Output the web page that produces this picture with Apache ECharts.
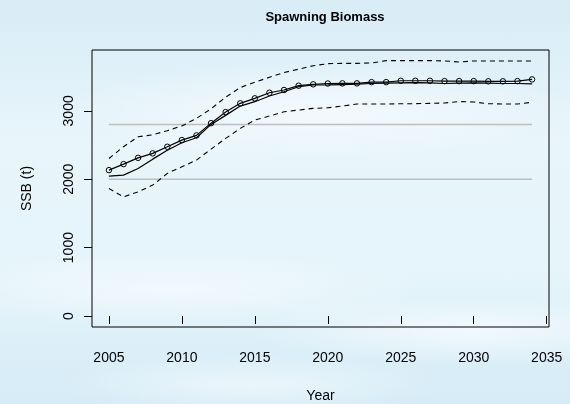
<!DOCTYPE html>
<html>
<head>
<meta charset="utf-8">
<script src="https://cdn.jsdelivr.net/npm/echarts@6/dist/echarts.min.js"></script>
<style>
  html, body { margin: 0; padding: 0; }
  body {
    width: 570px; height: 404px; overflow: hidden;
    background:
      radial-gradient(ellipse 260px 50px at 320px 110px, rgba(255,255,255,0.55), rgba(255,255,255,0)),
      radial-gradient(ellipse 220px 35px at 470px 330px, rgba(255,255,255,0.6), rgba(255,255,255,0)),
      radial-gradient(ellipse 260px 40px at 170px 290px, rgba(255,255,255,0.5), rgba(255,255,255,0)),
      radial-gradient(ellipse 200px 30px at 250px 385px, rgba(255,255,255,0.5), rgba(255,255,255,0)),
      linear-gradient(180deg, #d8ecf6 0%, #e8f5fb 35%, #e6f5fb 65%, #d5ebf6 100%);
  }
  #main { width: 570px; height: 404px; }
</style>
</head>
<body>
<div id="main"></div>
<script>
// projection years
const years = [2005, 2006, 2007, 2008, 2009, 2010, 2011, 2012, 2013, 2014,
  2015, 2016, 2017, 2018, 2019, 2020, 2021, 2022, 2023, 2024,
  2025, 2026, 2027, 2028, 2029, 2030, 2031, 2032, 2033, 2034];
// line with circles
const ssbPoints = [2133, 2221, 2313, 2378, 2475, 2572, 2641, 2820, 2982, 3110,
  3183, 3265, 3305, 3368, 3388, 3400, 3402, 3402, 3420, 3420,
  3440, 3440, 3440, 3435, 3435, 3435, 3432, 3432, 3435, 3460];
// plain solid line
const ssbMedian = [2045, 2060, 2158, 2294, 2425, 2533, 2606, 2802, 2934, 3070,
  3134, 3217, 3280, 3353, 3378, 3380, 3385, 3390, 3400, 3405,
  3410, 3412, 3410, 3400, 3405, 3410, 3405, 3400, 3400, 3395];
// dashed bounds
const ssbUpper = [2304, 2475, 2621, 2650, 2710, 2780, 2890, 3030, 3200, 3340,
  3420, 3490, 3560, 3610, 3660, 3690, 3695, 3695, 3700, 3735,
  3735, 3735, 3735, 3730, 3715, 3730, 3730, 3730, 3730, 3730];
const ssbLower = [1865, 1742, 1816, 1914, 2085, 2182, 2280, 2440, 2597, 2744,
  2865, 2924, 2987, 3012, 3036, 3045, 3070, 3100, 3100, 3100,
  3105, 3105, 3110, 3115, 3135, 3130, 3105, 3100, 3100, 3125];
// grey reference levels
const refLevels = [2000, 2800];
const xTicks = [2005, 2010, 2015, 2020, 2025, 2030, 2035];
const yTicks = [0, 1000, 2000, 3000];

const pairs = vals => years.map((y, i) => [y, vals[i]]);
const font = 'Liberation Sans, Arial, sans-serif';

let myChart = echarts.init(document.getElementById('main'));

let series = refLevels.map(v => ({
  type: 'line',
  data: [[years[0], v], [years[years.length - 1], v]],
  symbol: 'none',
  lineStyle: { color: '#bebebe', width: 1.5 },
  silent: true
}));

series.push(
  {
    type: 'line',
    data: pairs(ssbUpper),
    symbol: 'none',
    lineStyle: { color: '#000', width: 1.1, type: [5, 4] }
  },
  {
    type: 'line',
    data: pairs(ssbLower),
    symbol: 'none',
    lineStyle: { color: '#000', width: 1.1, type: [5, 4] }
  },
  {
    type: 'line',
    data: pairs(ssbMedian),
    symbol: 'none',
    lineStyle: { color: '#000', width: 1.2 }
  },
  {
    type: 'line',
    data: pairs(ssbPoints),
    symbol: 'circle',
    symbolSize: 5.5,
    itemStyle: { color: 'rgba(0,0,0,0)', borderColor: '#000', borderWidth: 1 },
    lineStyle: { color: '#000', width: 1.2 }
  }
);

let option = {
  animation: false,
  title: {
    text: 'Spawning Biomass',
    left: 320,
    top: 6,
    textAlign: 'center',
    textStyle: { fontFamily: font, fontWeight: 'bold', fontSize: 13, color: '#000' }
  },
  grid: {
    left: 92,
    right: 21,
    top: 50,
    bottom: 77,
    containLabel: false,
    outerBoundsMode: 'none',
    show: true,
    borderColor: '#000',
    borderWidth: 1,
    backgroundColor: 'transparent'
  },
  xAxis: {
    type: 'value',
    min: 2003.84,
    max: 2035.16,
    name: 'Year',
    nameLocation: 'middle',
    nameGap: 62,
    nameTextStyle: { fontFamily: font, fontSize: 14, color: '#000' },
    axisLine: { show: false },
    splitLine: { show: false },
    axisTick: { show: true, length: 8, customValues: xTicks, lineStyle: { color: '#000' } },
    axisLabel: {
      customValues: xTicks,
      margin: 24,
      fontFamily: font, fontSize: 14, color: '#000',
      formatter: v => String(v)
    }
  },
  yAxis: {
    type: 'value',
    min: -161,
    max: 3890,
    name: 'SSB (t)',
    nameLocation: 'middle',
    nameRotate: 90,
    nameGap: 58,
    nameTextStyle: { fontFamily: font, fontSize: 14, color: '#000' },
    axisLine: { show: false },
    splitLine: { show: false },
    axisTick: { show: true, length: 8, customValues: yTicks, lineStyle: { color: '#000' } },
    axisLabel: {
      customValues: yTicks,
      rotate: 90,
      margin: 16,
      fontFamily: font, fontSize: 14, color: '#000',
      formatter: v => String(v)
    }
  },
  series: series
};
myChart.setOption(option);
</script>
</body>
</html>
